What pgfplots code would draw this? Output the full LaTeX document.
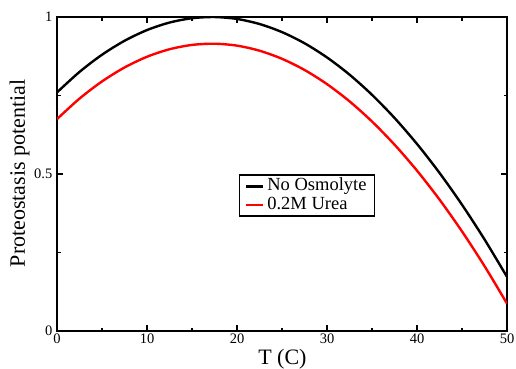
\documentclass[border=0pt]{standalone}
\usepackage{pgfplots}
\pgfplotsset{compat=1.18}
\usepackage{fontspec}
\setmainfont{Liberation Serif}
\begin{document}
\begin{tikzpicture}
\begin{axis}[
  name=ax,
  at={(0,0)}, anchor=south west,
  scale only axis,
  width=450pt, height=314pt,
  xmin=0, xmax=50, ymin=0, ymax=1,
  xtick={0,10,20,30,40,50},
  ytick={0,0.5,1},
  yticklabels={0,0.5,1},
  minor x tick num=1,
  minor y tick num=1,
  tick align=inside,
  major tick length=6pt,
  minor tick length=3.5pt,
  every tick/.style={black, line width=1.2pt},
  axis line style={line width=1.6pt},
  tick label style={font=\fontsize{14.5}{16}\selectfont},
  xticklabel style={anchor=base, yshift=-12pt},
  yticklabel style={anchor=east, inner sep=0pt, xshift=-4.5pt},
  /pgf/number format/assume math mode=true,
  xlabel={T (C)},
  ylabel={Proteostasis potential},
  label style={font=\fontsize{22}{24}\selectfont},
  xlabel style={at={(axis description cs:0.501,0)}, anchor=base, yshift=-33.5pt},
  ylabel style={at={(axis description cs:0,0.502)}, anchor=base, yshift=32pt},
  legend style={at={(0.556,0.4315)}, anchor=center, draw=black, line width=1.2pt,
    font=\fontsize{18.5}{20}\selectfont, inner xsep=5pt, inner ysep=2pt,
    nodes={inner xsep=3pt, inner ysep=0.5pt, text height=13pt, text depth=4.5pt}, row sep=0pt},
  legend cell align=left,
  legend image code/.code={\draw[#1, line width=2.5pt] (0pt,0pt) -- (17pt,0pt);},
]
\addplot[black, line width=2.4pt, smooth] coordinates {
(0,0.7599) (2.5,0.8251) (5,0.8798) (7.5,0.9242) (10,0.9584) (12.5,0.9823)
(15,0.9961) (17.5,0.9999) (20,0.9938) (22.5,0.9777) (25,0.9519) (27.5,0.9164)
(30,0.8712) (32.5,0.8165) (35,0.7522) (37.5,0.6786) (40,0.5957) (42.5,0.5036)
(45,0.4022) (47.5,0.2918) (50,0.1724)
};
\addlegendentry{No Osmolyte}
\addplot[red, line width=2.4pt, smooth] coordinates {
(0,0.6749) (2.5,0.7401) (5,0.7948) (7.5,0.8392) (10,0.8734) (12.5,0.8973)
(15,0.9111) (17.5,0.9149) (20,0.9088) (22.5,0.8927) (25,0.8669) (27.5,0.8314)
(30,0.7862) (32.5,0.7315) (35,0.6672) (37.5,0.5936) (40,0.5107) (42.5,0.4186)
(45,0.3172) (47.5,0.2068) (50,0.0874)
};
\addlegendentry{0.2M Urea}
\end{axis}
\pgfresetboundingbox
\path ([shift={(-57pt,-37pt)}]ax.south west) rectangle ([shift={(9pt,17pt)}]ax.north east);
\end{tikzpicture}
\end{document}
